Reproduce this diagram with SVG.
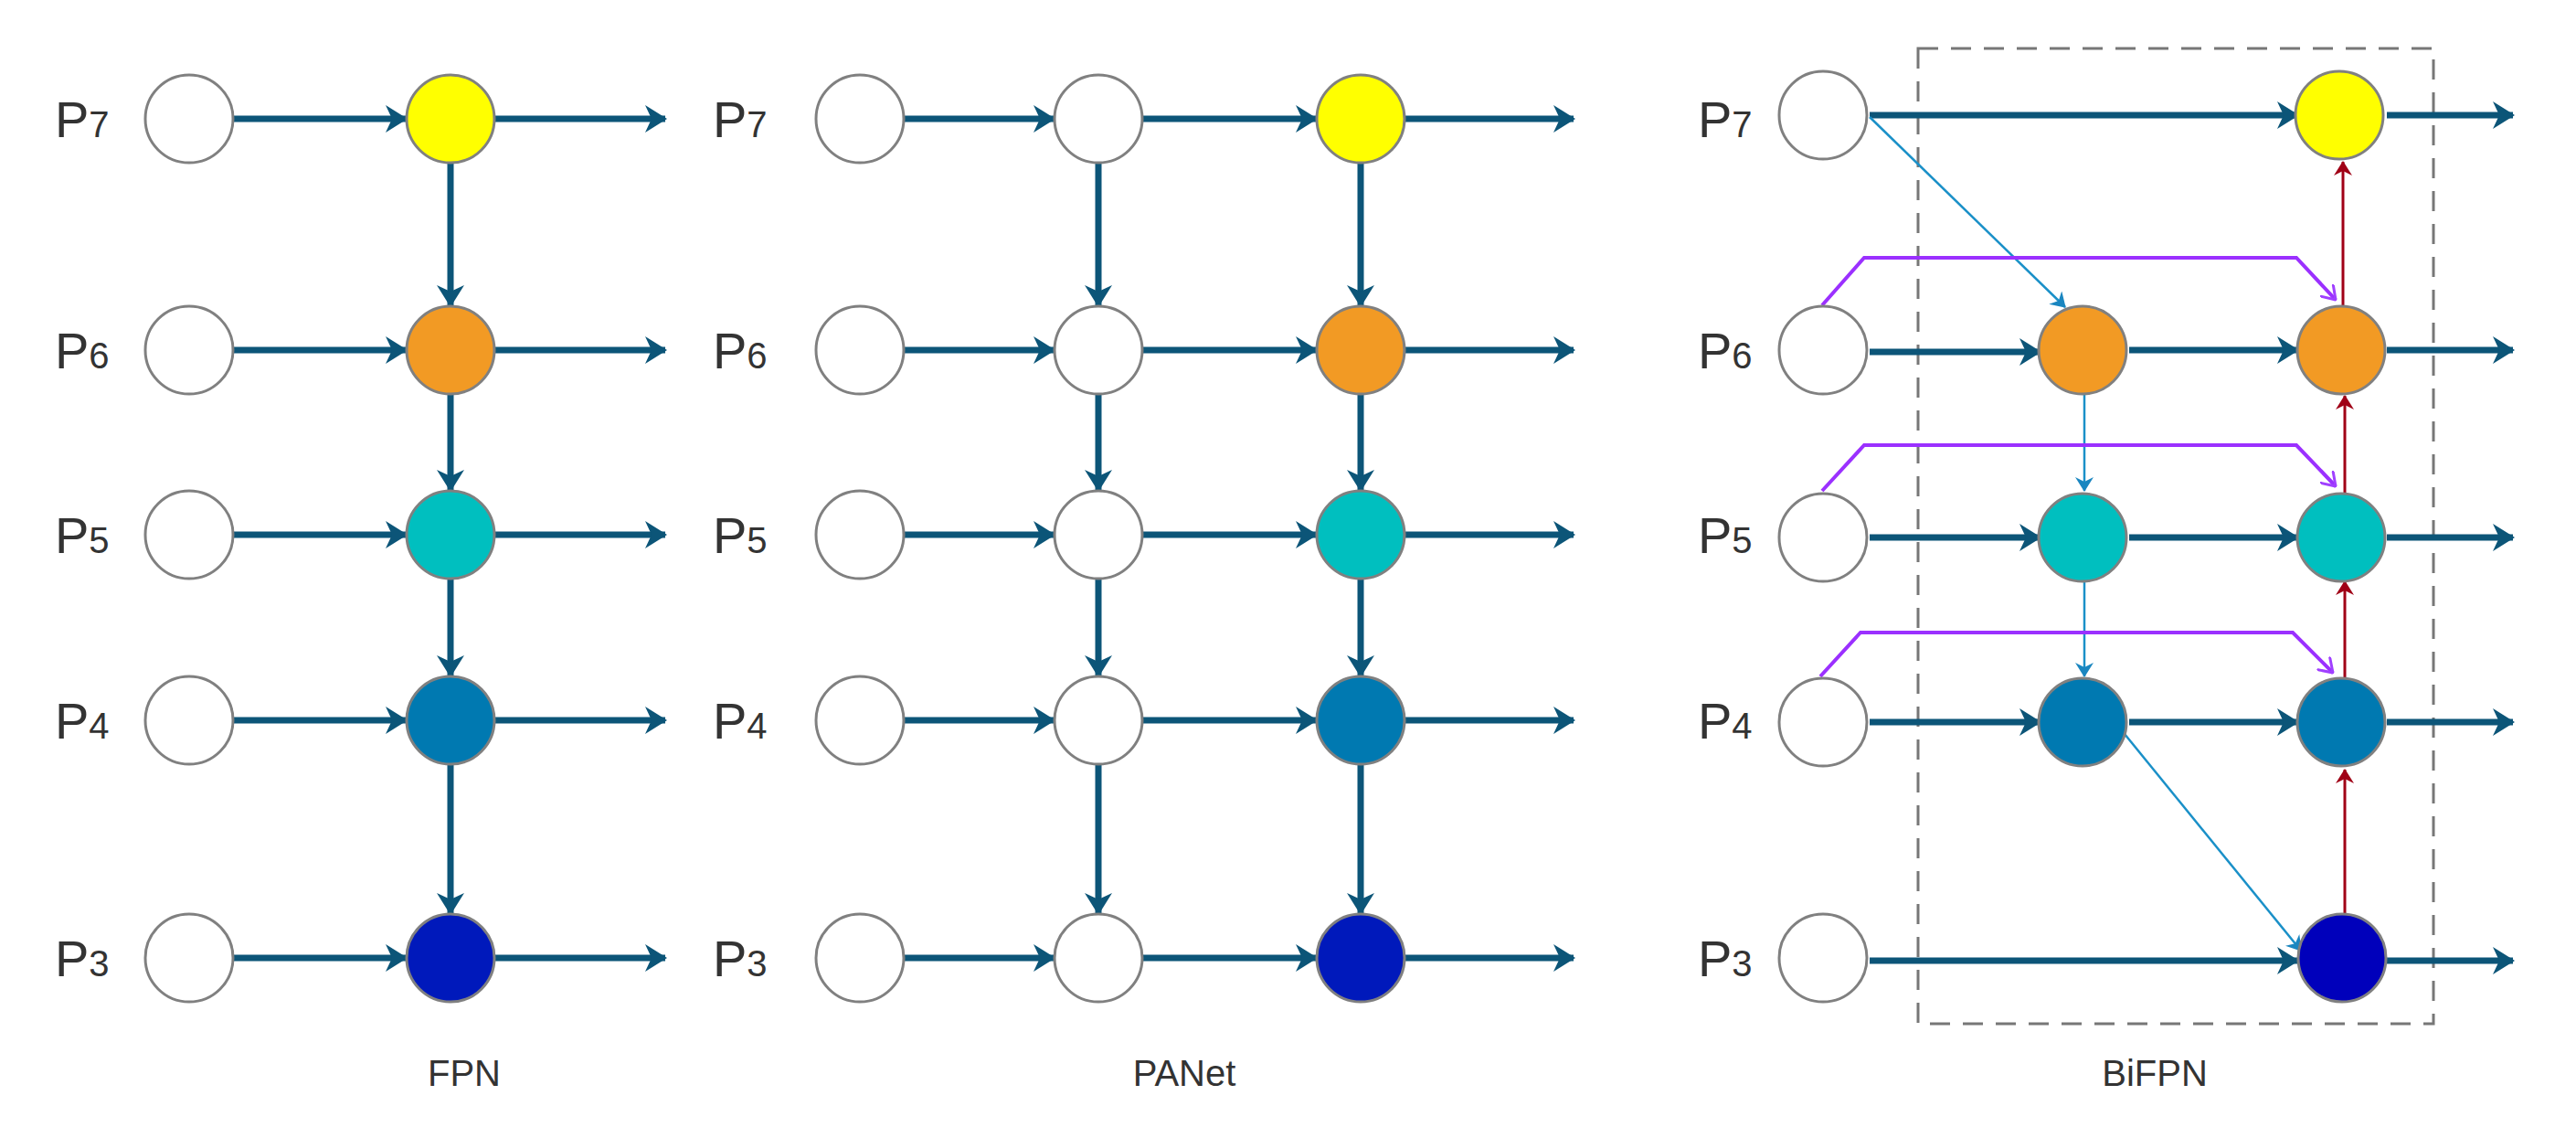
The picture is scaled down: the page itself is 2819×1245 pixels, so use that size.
<svg xmlns="http://www.w3.org/2000/svg" width="2819" height="1245" viewBox="0 0 2819 1245">
<defs>
<marker id="ah" viewBox="0 0 24 30" refX="22" refY="15" markerWidth="24" markerHeight="30" markerUnits="userSpaceOnUse" orient="auto"><path d="M0,0 L24,15 L0,30 L7,15 Z" fill="#0c5578"/></marker>
<marker id="ab" viewBox="0 0 16 20" refX="15" refY="10" markerWidth="16" markerHeight="20" markerUnits="userSpaceOnUse" orient="auto"><path d="M0,0 L16,10 L0,20 L5,10 Z" fill="#1a86c0"/></marker>
<marker id="ar" viewBox="0 0 16 20" refX="15" refY="10" markerWidth="16" markerHeight="20" markerUnits="userSpaceOnUse" orient="auto"><path d="M0,0 L16,10 L0,20 L5,10 Z" fill="#a00016"/></marker>
<marker id="ap" viewBox="0 0 16 20" refX="15" refY="10" markerWidth="16" markerHeight="20" markerUnits="userSpaceOnUse" orient="auto"><path d="M0,0 L15,10 L0,20" fill="none" stroke="#a040ff" stroke-width="3"/></marker>
</defs>
<style>
.c{stroke:#808080;stroke-width:3}
.w{fill:#fff}.y{fill:#ffff00}.o{fill:#f29a24}.t{fill:#00bfbf}.b{fill:#0079b1}.n{fill:#0019bb}.n2{fill:#0000bb}
.m{stroke:#0c5578;stroke-width:7;fill:none;marker-end:url(#ah)}
.tb{stroke:#1a90c8;stroke-width:2.5;fill:none;marker-end:url(#ab)}
.rd{stroke:#a00016;stroke-width:3;fill:none;marker-end:url(#ar)}
.pp{stroke:#9b30ff;stroke-width:4;fill:none;marker-end:url(#ap)}
.l{font-family:"Liberation Sans",Arial,sans-serif;fill:#333;font-size:56px}
.s{font-size:40px}
.cap{font-family:"Liberation Sans",Arial,sans-serif;fill:#333;font-size:40px;text-anchor:middle}
</style>
<rect width="2819" height="1245" fill="#fff"/>
<g id="labels">
<text class="l" x="60" y="150">P<tspan class="s">7</tspan></text>
<text class="l" x="60" y="403">P<tspan class="s">6</tspan></text>
<text class="l" x="60" y="605">P<tspan class="s">5</tspan></text>
<text class="l" x="60" y="808">P<tspan class="s">4</tspan></text>
<text class="l" x="60" y="1068">P<tspan class="s">3</tspan></text>
<text class="l" x="780" y="150">P<tspan class="s">7</tspan></text>
<text class="l" x="780" y="403">P<tspan class="s">6</tspan></text>
<text class="l" x="780" y="605">P<tspan class="s">5</tspan></text>
<text class="l" x="780" y="808">P<tspan class="s">4</tspan></text>
<text class="l" x="780" y="1068">P<tspan class="s">3</tspan></text>
<text class="l" x="1858" y="150">P<tspan class="s">7</tspan></text>
<text class="l" x="1858" y="403">P<tspan class="s">6</tspan></text>
<text class="l" x="1858" y="605">P<tspan class="s">5</tspan></text>
<text class="l" x="1858" y="808">P<tspan class="s">4</tspan></text>
<text class="l" x="1858" y="1068">P<tspan class="s">3</tspan></text>
<text class="cap" x="508" y="1188">FPN</text>
<text class="cap" x="1296" y="1188">PANet</text>
<text class="cap" x="2358" y="1188">BiFPN</text>
</g>
<rect id="bifpn-box" x="2099" y="53" width="564" height="1067" fill="none" stroke="#777" stroke-width="3" stroke-dasharray="22,14"/>
<g id="connectors">
<!-- FPN -->
<path class="m" d="M256,130H444"/><path class="m" d="M542,130H728"/>
<path class="m" d="M256,383H444"/><path class="m" d="M542,383H728"/>
<path class="m" d="M256,585H444"/><path class="m" d="M542,585H728"/>
<path class="m" d="M256,788H444"/><path class="m" d="M542,788H728"/>
<path class="m" d="M256,1048H444"/><path class="m" d="M542,1048H728"/>
<path class="m" d="M493,179V334"/><path class="m" d="M493,432V536"/><path class="m" d="M493,634V739"/><path class="m" d="M493,837V999"/>
<!-- PANet -->
<path class="m" d="M990,130H1153"/><path class="m" d="M1251,130H1440"/><path class="m" d="M1538,130H1722"/>
<path class="m" d="M990,383H1153"/><path class="m" d="M1251,383H1440"/><path class="m" d="M1538,383H1722"/>
<path class="m" d="M990,585H1153"/><path class="m" d="M1251,585H1440"/><path class="m" d="M1538,585H1722"/>
<path class="m" d="M990,788H1153"/><path class="m" d="M1251,788H1440"/><path class="m" d="M1538,788H1722"/>
<path class="m" d="M990,1048H1153"/><path class="m" d="M1251,1048H1440"/><path class="m" d="M1538,1048H1722"/>
<path class="m" d="M1202,179V334"/><path class="m" d="M1202,432V536"/><path class="m" d="M1202,634V739"/><path class="m" d="M1202,837V999"/>
<path class="m" d="M1489,179V334"/><path class="m" d="M1489,432V536"/><path class="m" d="M1489,634V739"/><path class="m" d="M1489,837V999"/>
<!-- BiFPN -->
<path class="m" d="M2046,126H2514"/><path class="m" d="M2612,126H2750"/>
<path class="m" d="M2046,385H2232"/><path class="m" d="M2330,383H2514"/><path class="m" d="M2612,383H2750"/>
<path class="m" d="M2046,588H2232"/><path class="m" d="M2330,588H2514"/><path class="m" d="M2612,588H2750"/>
<path class="m" d="M2046,790H2232"/><path class="m" d="M2330,790H2514"/><path class="m" d="M2612,790H2750"/>
<path class="m" d="M2046,1051H2514"/><path class="m" d="M2612,1051H2750"/>
<path class="tb" d="M2046,128L2260,336"/>
<path class="tb" d="M2281,432V537"/>
<path class="tb" d="M2281,637V740"/>
<path class="tb" d="M2325,803L2518,1040"/>
<path class="rd" d="M2566,1000V842"/>
<path class="rd" d="M2566,741V636"/>
<path class="rd" d="M2566,539V433"/>
<path class="rd" d="M2564,334V177"/>
<path class="pp" d="M1994,334L2040,282H2513L2556,328"/>
<path class="pp" d="M1994,537L2040,487H2513L2556,532"/>
<path class="pp" d="M1992,740L2036,692H2509L2553,736"/>
</g>
<g id="fpn-nodes">
<circle class="c w" cx="207" cy="130" r="48"/><circle class="c y" cx="493" cy="130" r="48"/>
<circle class="c w" cx="207" cy="383" r="48"/><circle class="c o" cx="493" cy="383" r="48"/>
<circle class="c w" cx="207" cy="585" r="48"/><circle class="c t" cx="493" cy="585" r="48"/>
<circle class="c w" cx="207" cy="788" r="48"/><circle class="c b" cx="493" cy="788" r="48"/>
<circle class="c w" cx="207" cy="1048" r="48"/><circle class="c n" cx="493" cy="1048" r="48"/>
</g>
<g id="panet-nodes">
<circle class="c w" cx="941" cy="130" r="48"/><circle class="c w" cx="1202" cy="130" r="48"/><circle class="c y" cx="1489" cy="130" r="48"/>
<circle class="c w" cx="941" cy="383" r="48"/><circle class="c w" cx="1202" cy="383" r="48"/><circle class="c o" cx="1489" cy="383" r="48"/>
<circle class="c w" cx="941" cy="585" r="48"/><circle class="c w" cx="1202" cy="585" r="48"/><circle class="c t" cx="1489" cy="585" r="48"/>
<circle class="c w" cx="941" cy="788" r="48"/><circle class="c w" cx="1202" cy="788" r="48"/><circle class="c b" cx="1489" cy="788" r="48"/>
<circle class="c w" cx="941" cy="1048" r="48"/><circle class="c w" cx="1202" cy="1048" r="48"/><circle class="c n" cx="1489" cy="1048" r="48"/>
</g>
<g id="bifpn-nodes">
<circle class="c w" cx="1995" cy="126" r="48"/><circle class="c y" cx="2560" cy="126" r="48"/>
<circle class="c w" cx="1995" cy="383" r="48"/><circle class="c o" cx="2279" cy="383" r="48"/><circle class="c o" cx="2562" cy="383" r="48"/>
<circle class="c w" cx="1995" cy="588" r="48"/><circle class="c t" cx="2279" cy="588" r="48"/><circle class="c t" cx="2562" cy="588" r="48"/>
<circle class="c w" cx="1995" cy="790" r="48"/><circle class="c b" cx="2279" cy="790" r="48"/><circle class="c b" cx="2562" cy="790" r="48"/>
<circle class="c w" cx="1995" cy="1048" r="48"/><circle class="c n2" cx="2563" cy="1048" r="48"/>
</g>
</svg>
